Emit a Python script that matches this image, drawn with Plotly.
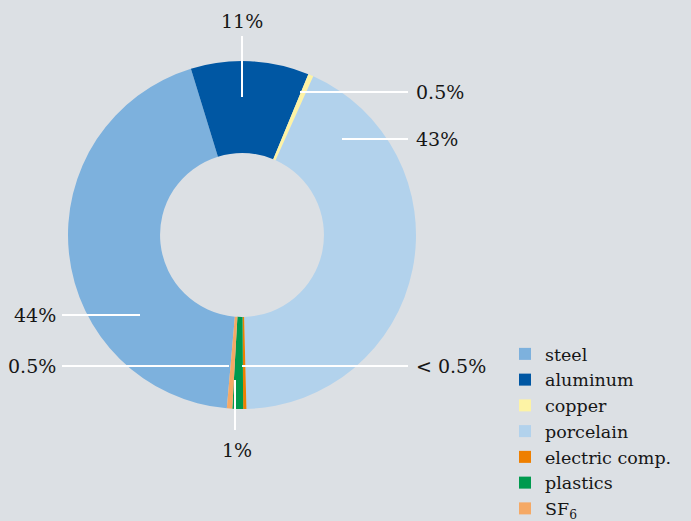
import plotly.graph_objects as go

W, H = 691, 521

materials = ["steel", "aluminum", "copper", "porcelain", "electric comp.", "plastics", "SF<sub>6</sub>"]
shares = [44, 11, 0.5, 43, 0.3, 1, 0.5]
share_labels = ["44%", "11%", "0.5%", "43%", "< 0.5%", "1%", "0.5%"]
colors = ["#7db1dd", "#0057a3", "#fdf3a5", "#b2d2ec", "#ee7f00", "#009a4e", "#f5a965"]

BG = "#dce0e4"
FONT = "DejaVu Serif"
TXT = "#161616"

def px(x):
    return x / W

def py(y):
    return 1 - y / H

fig = go.Figure(go.Pie(
    labels=materials,
    values=shares,
    marker=dict(colors=colors, line=dict(width=0)),
    hole=0.471,
    sort=False,
    direction="clockwise",
    rotation=185,
    textinfo="none",
    hoverinfo="label+percent",
    domain=dict(x=[px(68), px(416)], y=[py(409), py(61)]),
))

# leader lines (pixel layout positions) and label placement per slice
leaders = {
    "steel": ((62, 315), (140, 315), (58, 315, "right", "middle")),
    "aluminum": ((242, 36), (242, 97), (242, 21, "center", "middle")),
    "copper": ((300, 92), (408, 92), (414, 92, "left", "middle")),
    "porcelain": ((342, 139), (408, 139), (414, 139, "left", "middle")),
    "electric comp.": ((242, 366), (408, 366), (414, 366, "left", "middle")),
    "plastics": ((235, 380), (235, 430), (237, 450, "center", "middle")),
    "SF<sub>6</sub>": ((62, 366), (229, 366), (58, 366, "right", "middle")),
}

shapes = []
annotations = []
for name, lab in zip(materials, share_labels):
    (x0, y0), (x1, y1), (tx, ty, xa, ya) = leaders[name]
    shapes.append(dict(type="line", xref="paper", yref="paper",
                       x0=px(x0), y0=py(y0), x1=px(x1), y1=py(y1),
                       line=dict(color="white", width=2)))
    annotations.append(dict(text=lab, xref="paper", yref="paper",
                            x=px(tx), y=py(ty), xanchor=xa, yanchor=ya,
                            showarrow=False,
                            font=dict(family=FONT, size=19, color=TXT)))

fig.update_layout(
    width=W, height=H,
    margin=dict(l=0, r=0, t=0, b=0, autoexpand=False),
    paper_bgcolor=BG, plot_bgcolor=BG,
    shapes=shapes, annotations=annotations,
    showlegend=True,
    legend=dict(x=px(505), y=py(336), xanchor="left", yanchor="top",
                font=dict(family=FONT, size=17.5, color=TXT),
                bgcolor="rgba(0,0,0,0)", traceorder="normal"),
)

fig.write_html(
    "out.html",
    config={"displayModeBar": False},
    post_script="document.body.style.margin='0';document.body.style.overflow='hidden';",
)
